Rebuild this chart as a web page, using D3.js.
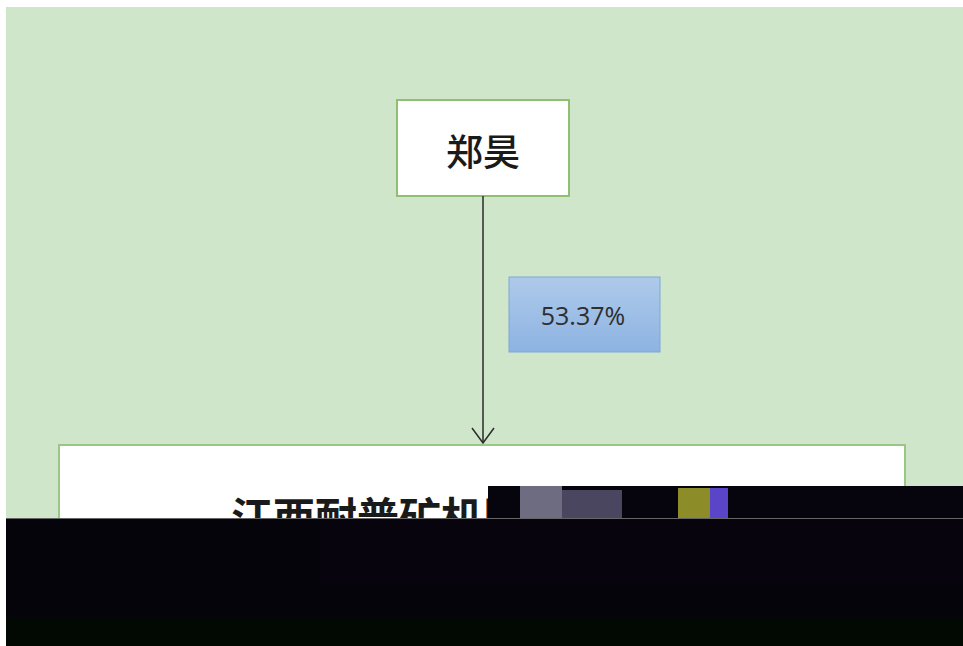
<!doctype html>
<html>
<head>
<meta charset="UTF-8">
<title>股权结构</title>
<script src="https://d3js.org/d3.v7.min.js"></script>
<style>
  body { margin: 0; background: #fff; }
  svg { display: block; }
</style>
</head>
<body>
<svg id="chart" width="963" height="646"></svg>
<script>
// data
var holders = ["郑昊"];
var companies = ["江西耐普矿机股份有限公司"];
var shares = [53.37];
var levels = ["holder", "company"];

var W = 963, H = 646;
var svg = d3.select("#chart");

// page + green panel
svg.append("rect").attr("width", W).attr("height", H).attr("fill", "#fff");
svg.append("rect").attr("x", 6).attr("y", 7).attr("width", W - 6).attr("height", H - 7)
   .attr("fill", "#cfe6cb");

// blue gradient for the share label
var grad = svg.append("defs").append("linearGradient")
   .attr("id", "blueGrad").attr("x1", 0).attr("y1", 0).attr("x2", 0).attr("y2", 1);
grad.append("stop").attr("offset", "0%").attr("stop-color", "#aecaea");
grad.append("stop").attr("offset", "100%").attr("stop-color", "#8db3e2");

// vertical level scale : top of each box
var yTop = d3.scaleOrdinal().domain(levels).range([100, 445]);
var boxH = d3.scaleOrdinal().domain(levels).range([96, 150]);
var cx = 483;
var xWidth = d3.scaleOrdinal().domain(levels).range([172, 846]);

// holder box
var hold = svg.selectAll("g.holder").data(holders).enter().append("g").attr("class", "holder");
hold.append("rect")
   .attr("x", cx - xWidth("holder") / 2)
   .attr("y", yTop("holder"))
   .attr("width", xWidth("holder"))
   .attr("height", boxH("holder"))
   .attr("fill", "#fff").attr("stroke", "#8fc072").attr("stroke-width", 2);
hold.append("text")
   .attr("x", cx)
   .attr("y", yTop("holder") + boxH("holder") / 2 + 18)
   .attr("text-anchor", "middle")
   .attr("font-family", "'Noto Sans CJK SC', sans-serif")
   .attr("font-size", 37)
   .attr("font-weight", 500)
   .attr("fill", "#1a1a1a")
   .text(function(d){ return d; });

// arrow
var y1 = yTop("holder") + boxH("holder");
var y2 = yTop("company") - 2;
svg.append("line")
   .attr("x1", cx).attr("y1", y1).attr("x2", cx).attr("y2", y2)
   .attr("stroke", "#2b2b2b").attr("stroke-width", 1.5);
svg.append("path")
   .attr("d", d3.line()([[cx - 11, y2 - 15], [cx, y2], [cx + 11, y2 - 15]]))
   .attr("fill", "none").attr("stroke", "#2b2b2b").attr("stroke-width", 1.5);

// share label
var lab = svg.selectAll("g.share").data(shares).enter().append("g").attr("class", "share");
lab.append("rect")
   .attr("x", 509).attr("y", 277).attr("width", 151).attr("height", 75)
   .attr("fill", "url(#blueGrad)").attr("stroke", "#7ea6d9").attr("stroke-width", 1);
lab.append("text")
   .attr("x", 583).attr("y", 325)
   .attr("text-anchor", "middle")
   .attr("font-family", "'Open Sans', sans-serif")
   .attr("font-size", 25)
   .attr("fill", "#2e2e2e")
   .text(function(d){ return d3.format(".2f")(d) + "%"; });

// company box
var comp = svg.selectAll("g.company").data(companies).enter().append("g").attr("class", "company");
comp.append("rect")
   .attr("x", cx - xWidth("company") / 2 - 1)
   .attr("y", yTop("company"))
   .attr("width", xWidth("company"))
   .attr("height", boxH("company"))
   .attr("fill", "#fff").attr("stroke", "#9ac783").attr("stroke-width", 2);
comp.append("text")
   .attr("x", cx)
   .attr("y", yTop("company") + 88)
   .attr("text-anchor", "middle")
   .attr("font-family", "'Noto Sans CJK SC', serif")
   .attr("font-size", 42)
   .attr("font-weight", 600)
   .attr("fill", "#1a1a1a")
   .text(function(d){ return d; });

// damaged lower part of the source image
var blk = svg.append("g").attr("class", "damage");
blk.append("rect").attr("x", 488).attr("y", 486).attr("width", W - 488).attr("height", 40).attr("fill", "#06040c");
blk.append("rect").attr("x", 520).attr("y", 486).attr("width", 42).attr("height", 33).attr("fill", "#6e6c80");
blk.append("rect").attr("x", 562).attr("y", 490).attr("width", 60).attr("height", 29).attr("fill", "#4a4660");
blk.append("rect").attr("x", 678).attr("y", 488).attr("width", 32).attr("height", 31).attr("fill", "#8c8c28");
blk.append("rect").attr("x", 710).attr("y", 488).attr("width", 18).attr("height", 31).attr("fill", "#5a44c8");
blk.append("rect").attr("x", 6).attr("y", 518).attr("width", W - 6).attr("height", 1).attr("fill", "#666");
blk.append("rect").attr("x", 6).attr("y", 519).attr("width", W - 6).attr("height", H - 519).attr("fill", "#05040a");
blk.append("rect").attr("x", 6).attr("y", 617).attr("width", W - 6).attr("height", H - 617).attr("fill", "#020802");
blk.append("rect").attr("x", 320).attr("y", 519).attr("width", W - 320).attr("height", 66).attr("fill", "#07040d");
</script>
</body>
</html>
